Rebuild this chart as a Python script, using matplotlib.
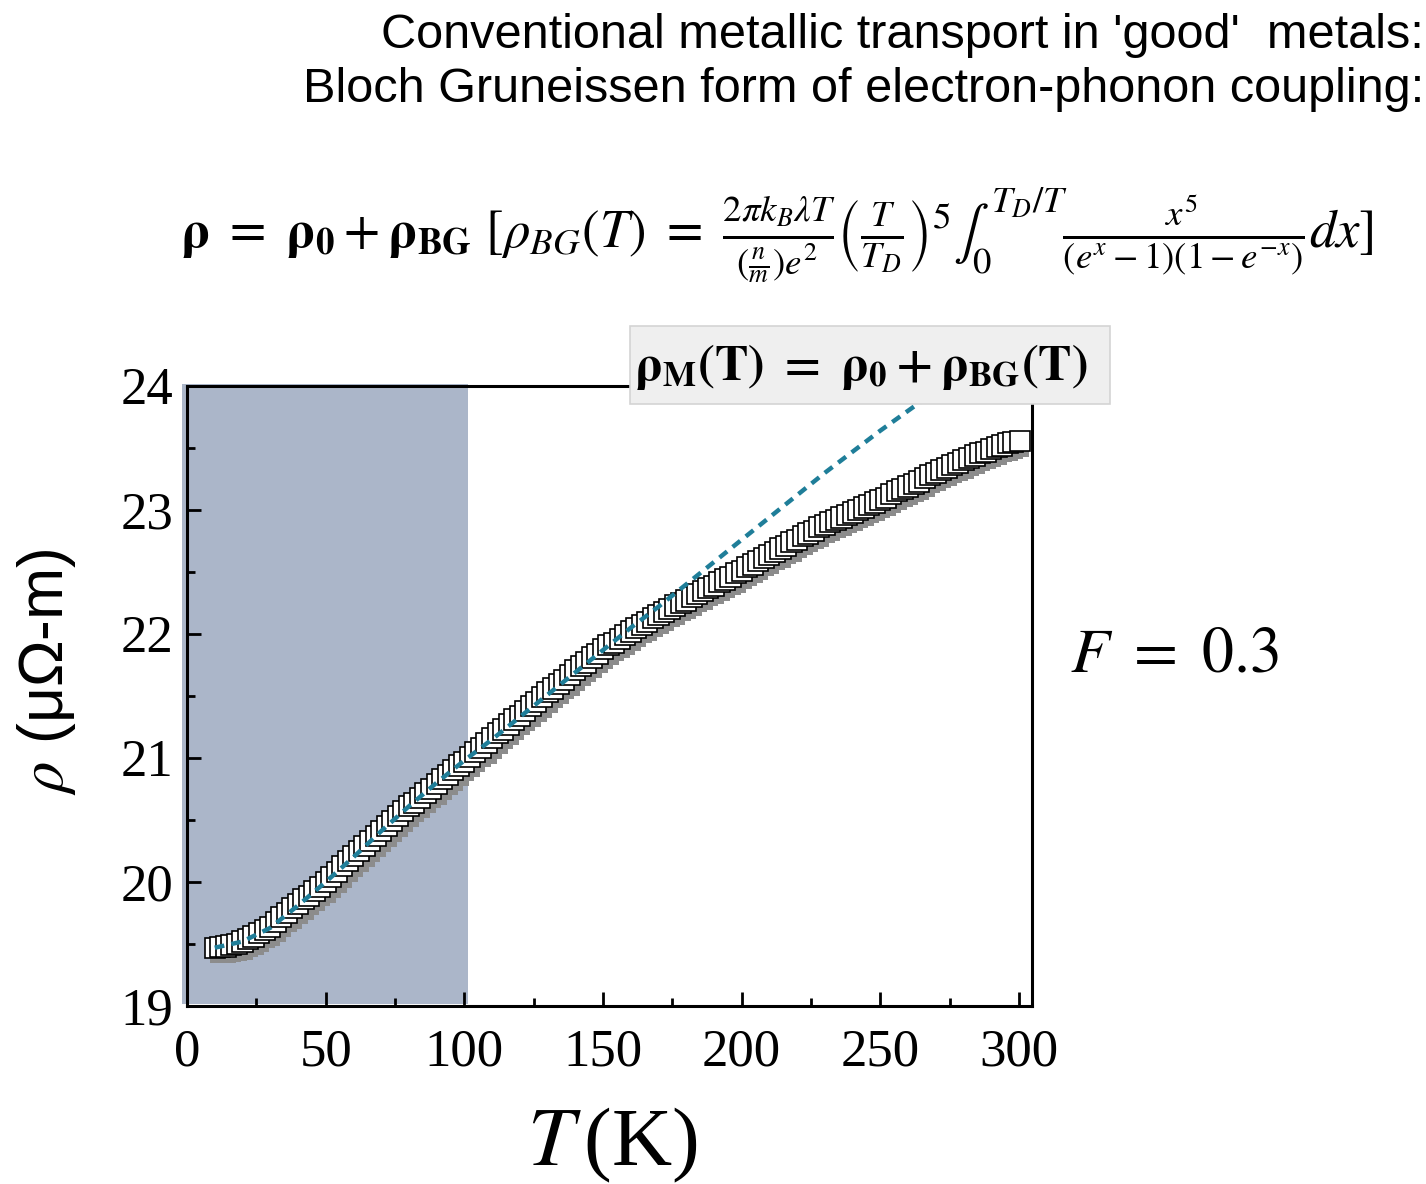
import numpy as np
import matplotlib
matplotlib.use("Agg")
import matplotlib.pyplot as plt
import matplotlib.patheffects as pe
from matplotlib.patches import Rectangle

plt.rcParams['mathtext.fontset'] = 'stix'
plt.rcParams['font.family'] = ['Liberation Serif', 'DejaVu Serif']

temp = np.arange(10, 299, 2)
rho = [19.47, 19.475, 19.48, 19.49, 19.50, 19.52, 19.54, 19.56, 19.59, 19.61,
       19.64, 19.68, 19.72, 19.75, 19.79, 19.82, 19.86, 19.89, 19.93, 19.96,
       20.00, 20.04, 20.08, 20.13, 20.17, 20.21, 20.25, 20.29, 20.33, 20.37,
       20.41, 20.45, 20.49, 20.53, 20.57, 20.61, 20.64, 20.68, 20.72, 20.75,
       20.79, 20.83, 20.86, 20.90, 20.94, 20.97, 21.01, 21.05, 21.08, 21.12,
       21.16, 21.20, 21.23, 21.27, 21.31, 21.34, 21.38, 21.42, 21.45, 21.49,
       21.53, 21.56, 21.60, 21.63, 21.67, 21.71, 21.74, 21.77, 21.81, 21.84,
       21.88, 21.91, 21.93, 21.96, 21.99, 22.02, 22.05, 22.07, 22.10, 22.13,
       22.15, 22.18, 22.20, 22.23, 22.25, 22.27, 22.30, 22.32, 22.35, 22.37,
       22.39, 22.42, 22.44, 22.46, 22.49, 22.51, 22.54, 22.56, 22.59, 22.61,
       22.64, 22.66, 22.69, 22.71, 22.74, 22.76, 22.79, 22.81, 22.83, 22.86,
       22.88, 22.90, 22.92, 22.94, 22.96, 22.98, 23.00, 23.02, 23.04, 23.06,
       23.08, 23.10, 23.13, 23.15, 23.17, 23.19, 23.21, 23.23, 23.26, 23.28,
       23.30, 23.32, 23.34, 23.36, 23.38, 23.40, 23.42, 23.44, 23.46, 23.47,
       23.49, 23.51, 23.52, 23.54, 23.55]
temp_last = [300.5]
rho_last = [23.56]

# Bloch-Gruneisen fit curve (dashed)
fit_temp = [10, 20, 30, 40, 50, 60, 70, 80, 90, 100, 110, 120, 130, 140,
            150, 160, 170, 180, 190, 200, 210, 220, 230, 240, 250, 260, 270]
fit_rho = [19.47, 19.52, 19.63, 19.81, 20.00, 20.20, 20.41, 20.61, 20.80,
           20.98, 21.15, 21.33, 21.51, 21.69, 21.87, 22.05, 22.22, 22.40,
           22.58, 22.76, 22.94, 23.12, 23.30, 23.47, 23.64, 23.80, 23.96]

xticks = [0, 50, 100, 150, 200, 250, 300]
yticks = [19, 20, 21, 22, 23, 24]
fit_window = (-1.8, 101.3)

W, H = 1426, 1184
fig = plt.figure(figsize=(W / 100, H / 100), dpi=100)
ax = fig.add_axes([187 / W, 1 - 1006 / H, 845 / W, 620 / H])

ax.add_patch(Rectangle((fit_window[0], 19.02), fit_window[1] - fit_window[0], 5.0,
                       facecolor='#abb6c9', edgecolor='none', zorder=0, clip_on=False))

shadow = [pe.SimplePatchShadow(offset=(4, -4), shadow_rgbFace='#8c8c8c', alpha=1.0), pe.Normal()]
ax.plot(temp, rho, ls='none', marker='s', ms=14.5, mfc='white', mec='black', mew=1.2,
        path_effects=shadow, zorder=3)
ax.plot(temp_last, rho_last, ls='none', marker='s', ms=14.5, mfc='white', mec='black', mew=1.2,
        zorder=3, clip_on=False)
ax.plot(fit_temp, fit_rho, color='#1f7e99', lw=3.2, ls=(0, (2.2, 1.6)), zorder=4)

ax.set_xlim(0, 304.7)
ax.set_ylim(19, 24)
ax.set_xticks(xticks)
ax.set_yticks(yticks)
ax.set_xticks(np.arange(25, 300, 50), minor=True)
ax.set_yticks(np.arange(19.5, 24, 1), minor=True)
ax.tick_params(which='both', direction='in', top=False, right=False, width=2)
ax.tick_params(which='major', length=10, labelsize=38)
ax.tick_params(which='minor', length=6)
ax.tick_params(axis='x', pad=16)
ax.tick_params(axis='y', pad=10)
for s in ax.spines.values():
    s.set_linewidth(2.2)

fig.text(612 / W, 1 - 1145 / H, r'$T\,$(K)', fontsize=60, ha='center', va='center')
fig.text(47 / W, 1 - 672 / H, r'$\rho$ (μΩ-m)', fontsize=45, rotation=90,
         ha='center', va='center', family=['Liberation Sans', 'DejaVu Sans'])

# formula box over the top right corner
fig.patches.append(Rectangle((630 / W, 1 - 404 / H), 480 / W, 78 / H, transform=fig.transFigure,
                             facecolor='#efefef', edgecolor='#d4d4d4', lw=1.2, zorder=10))
fig.text(861 / W, 1 - 367 / H, r'$\mathbf{\rho_M(T)\ =\ \rho_0+\rho_{BG}(T)}$',
         fontsize=36, ha='center', va='center', zorder=11)

fig.text(1175 / W, 1 - 657 / H, r'$F\ =\ \mathrm{0.3}$', fontsize=46, ha='center', va='center')

fig.text(1424 / W, 1 - 36 / H, "Conventional metallic transport in 'good'  metals:",
         fontsize=35, ha='right', va='center', family=['Liberation Sans', 'DejaVu Sans'])
fig.text(1424 / W, 1 - 90 / H, "Bloch Gruneissen form of electron-phonon coupling:",
         fontsize=35, ha='right', va='center', family=['Liberation Sans', 'DejaVu Sans'])

eq = (r'$\mathbf{\rho}\ =\ \mathbf{\rho_0}+\mathbf{\rho_{BG}}\ '
      r'[\rho_{BG}(T)\ =\ \frac{2\pi k_B\lambda T}{\left(\frac{n}{m}\right)e^2}'
      r'\left(\frac{T}{T_D}\right)^5\int_0^{T_D/T}\frac{x^5}{(e^x-1)(1-e^{-x})}dx]$')
fig.text(777 / W, 1 - 235 / H, eq, fontsize=38, ha='center', va='center')

fig.savefig('out.png', dpi=100)
